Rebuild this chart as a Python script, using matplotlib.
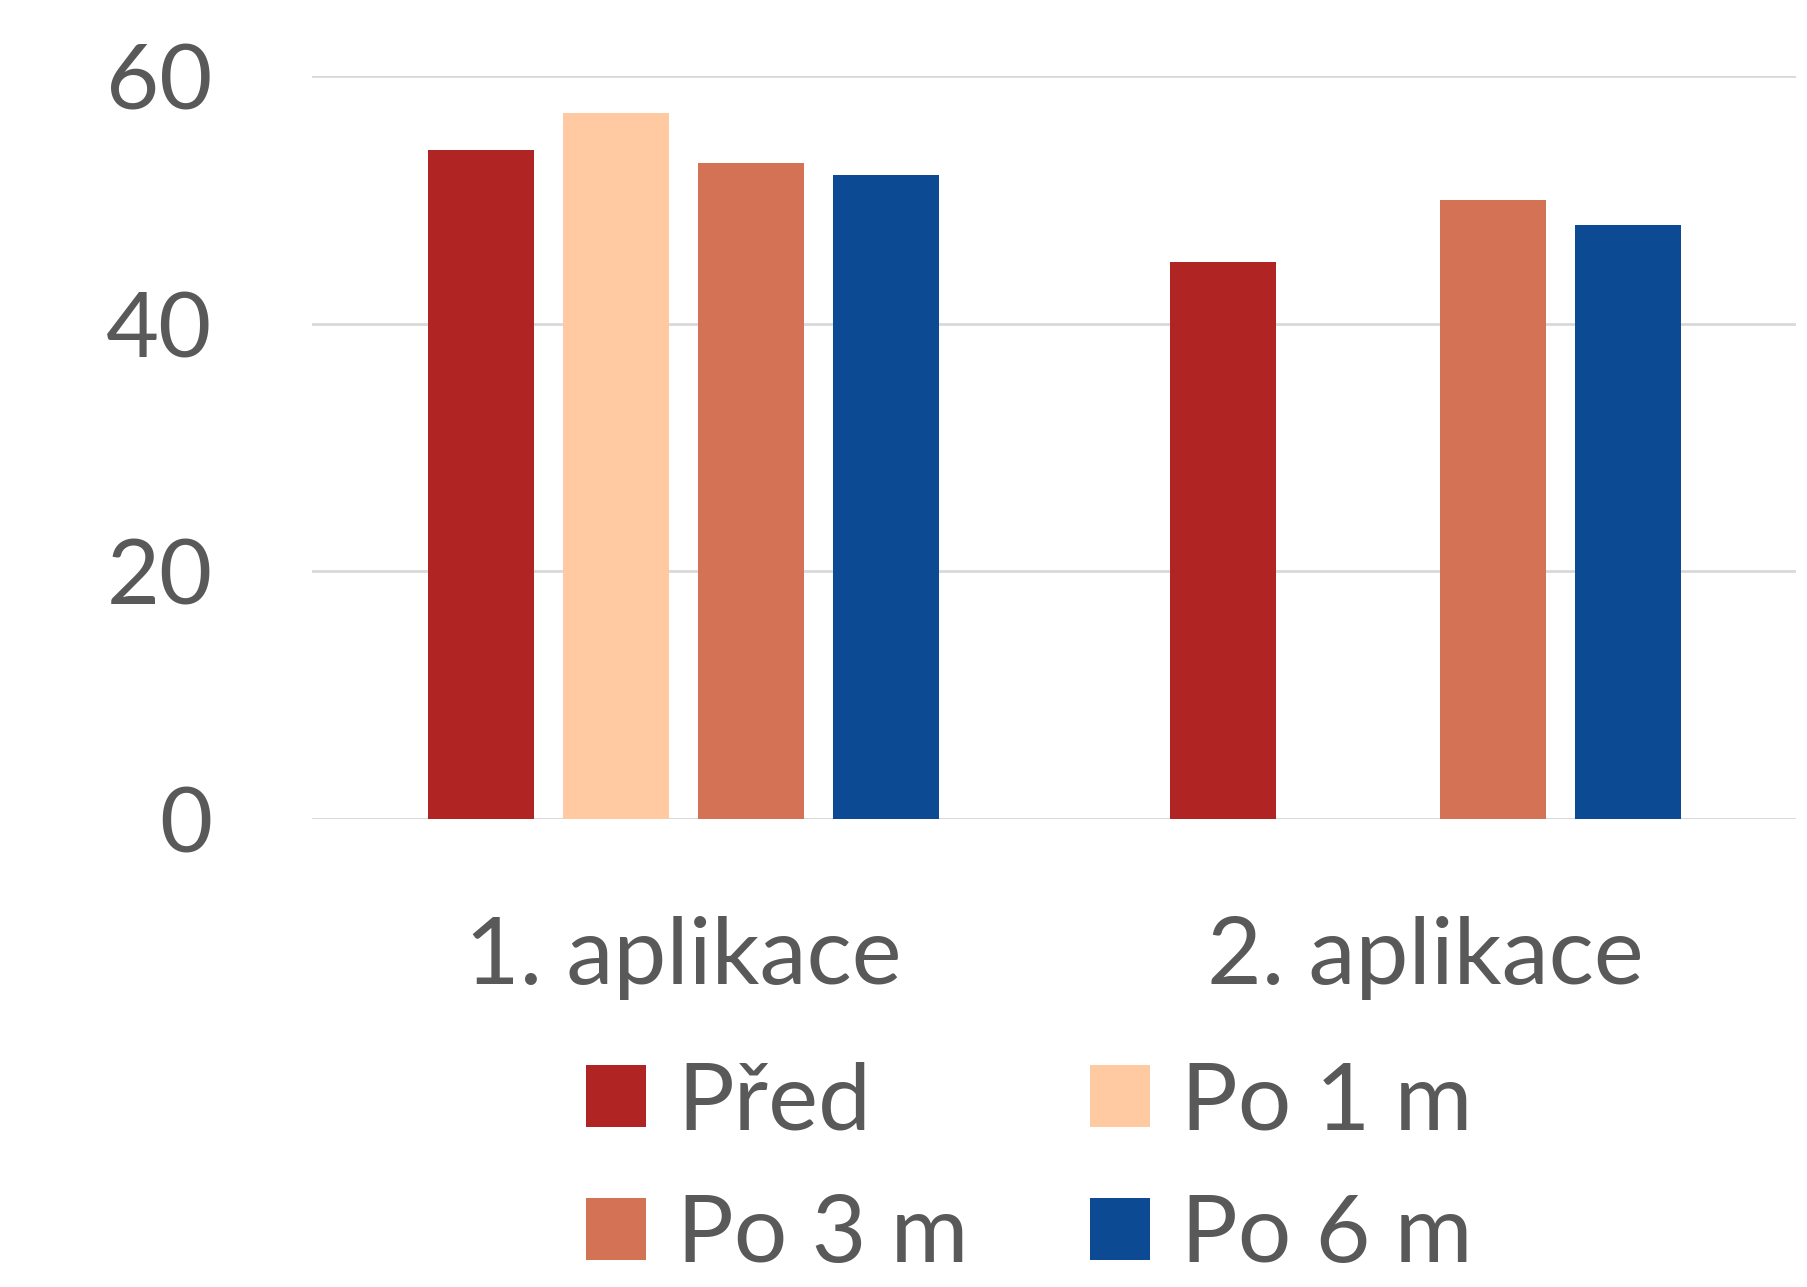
import numpy as np
import matplotlib
matplotlib.use("Agg")
import matplotlib.pyplot as plt
from matplotlib.patches import Patch

categories = ["1. aplikace", "2. aplikace"]
series_names = ["Před", "Po 1 m", "Po 3 m", "Po 6 m"]
pred = [54, 45]
po1m = [57, np.nan]
po3m = [53, 50]
po6m = [52, 48]
yticks = [0, 20, 40, 60]

colors = ["#B02523", "#FFCAA2", "#D37254", "#0C4A93"]
text_color = "#595959"
grid_color = "#D9D9D9"

plt.rcParams['font.family'] = ['Lato', 'DejaVu Sans']

fig = plt.figure(figsize=(18.08, 12.87), dpi=100)
ax = fig.add_axes([0.1728, 0.3639, 0.9936 - 0.1728, 0.9409 - 0.3639])

x = np.arange(len(categories))
width = 0.143
pitch = 0.1818
series = [pred, po1m, po3m, po6m]
for i, (vals, c, name) in enumerate(zip(series, colors, series_names)):
    offs = (i - 1.5) * pitch
    ax.bar(x + offs, vals, width=width, color=c, label=name, zorder=3)

ax.set_xlim(-0.5, 1.5)
ax.set_ylim(0, 60)
ax.set_yticks(yticks)
ax.set_yticklabels([str(v) for v in yticks])
ax.set_xticks(x)
ax.set_xticklabels(categories)
ax.yaxis.grid(True, color=grid_color, linewidth=2, zorder=0)
ax.set_axisbelow(True)
for s in ax.spines.values():
    s.set_visible(False)
ax.tick_params(axis='both', length=0, colors=text_color)
ax.tick_params(axis='y', pad=72, labelsize=66)
ax.tick_params(axis='x', pad=70, labelsize=68)
ax.axhline(0, color=grid_color, linewidth=2, zorder=1)

# row-wise legend order: Před, Po 1 m / Po 3 m, Po 6 m
order = [0, 2, 1, 3]
handles = [Patch(facecolor=colors[k], edgecolor='none') for k in order]
labels = [series_names[k] for k in order]
leg = fig.legend(handles, labels, loc='upper left',
                 bbox_to_anchor=(0.324, 0.1755), ncol=2, frameon=False,
                 fontsize=68, labelcolor=text_color,
                 handlelength=0.64, handleheight=0.64, handletextpad=0.33,
                 columnspacing=1.28, labelspacing=0.52, borderaxespad=0, borderpad=0)

fig.savefig("out.png", dpi=100)
